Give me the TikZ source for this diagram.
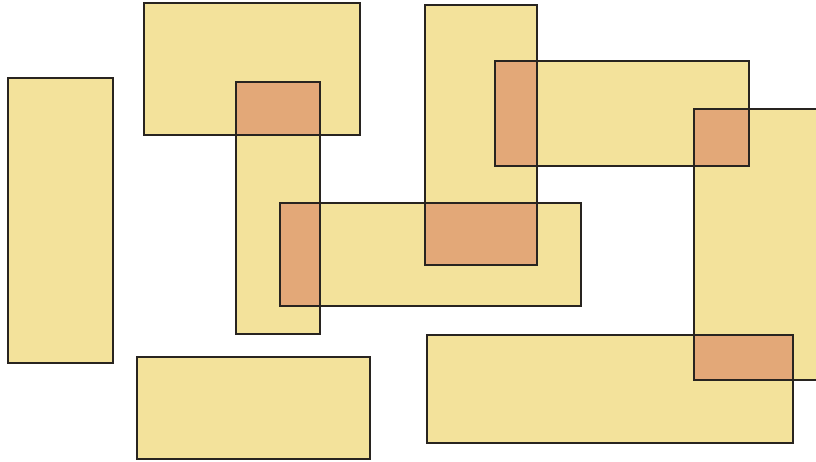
\documentclass[tikz,border=0pt]{standalone}
\definecolor{sheet}{RGB}{243,226,155}
\definecolor{overlap}{RGB}{227,168,120}
\definecolor{edge}{RGB}{40,36,32}
\tikzset{
  sheetbox/.style={fill=sheet},
  overlapbox/.style={fill=overlap},
  edgebox/.style={draw=edge,line width=1.1pt}
}
\begin{document}
\begin{tikzpicture}[x=1pt,y=-1pt]
\clip (0,0) rectangle (816,461);
% sheets
\foreach \xa/\ya/\xb/\yb in {8/78/113/363, 144/3/360/135, 236/82/320/334,
  280/203/581/306, 425/5/537/265, 495/61/749/166, 694/109/830/380,
  137/357/370/459, 427/335/793/443}
  \fill[sheetbox] (\xa,\ya) rectangle (\xb,\yb);
% overlaps
\foreach \xa/\ya/\xb/\yb in {236/82/320/135, 280/203/320/306, 425/203/537/265,
  495/61/537/166, 694/109/749/166, 694/335/793/380}
  \fill[overlapbox] (\xa,\ya) rectangle (\xb,\yb);
% outlines
\foreach \xa/\ya/\xb/\yb in {8/78/113/363, 144/3/360/135, 236/82/320/334,
  280/203/581/306, 425/5/537/265, 495/61/749/166, 694/109/830/380,
  137/357/370/459, 427/335/793/443}
  \draw[edgebox] (\xa,\ya) rectangle (\xb,\yb);
\end{tikzpicture}
\end{document}
